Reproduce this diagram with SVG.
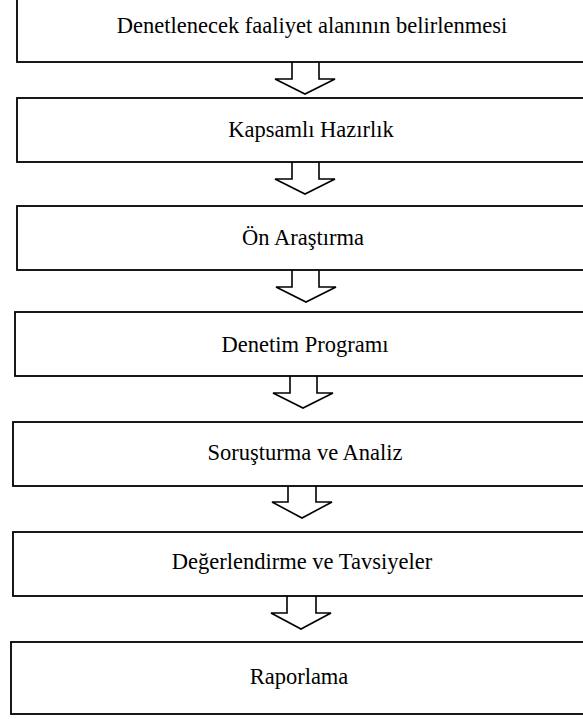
<svg xmlns="http://www.w3.org/2000/svg" width="583" height="719" viewBox="0 0 583 719">
<style>
.box{fill:#fff;stroke:#000;stroke-width:1.8}
.arr{fill:#fff;stroke:#000;stroke-width:1.6;stroke-linejoin:miter}
.t{font-family:"Liberation Serif","Times New Roman",serif;font-size:22.5px;fill:#000;text-anchor:middle}
</style>
<g id="connectors">
<polyline class="arr" points="292,62 292,79 275,79 305,94 335,79 319,79 319,62"/>
<polyline class="arr" points="292,162 292,179 275,179 305,194 335,179 319,179 319,162"/>
<polyline class="arr" points="292,270 292,287 276,287 306,302 336,287 319,287 319,270"/>
<polyline class="arr" points="290,376 290,393 273,393 303,408 333,393 317,393 317,376"/>
<polyline class="arr" points="288,486 288,502 272,502 302,518 332,502 316,502 316,486"/>
<polyline class="arr" points="287,596 287,613 271,613 301,629 331,613 316,613 316,596"/>
</g>
<g id="n1"><rect class="box" x="17" y="-10" width="600" height="72"/><text class="t" x="312" y="33">Denetlenecek faaliyet alanının belirlenmesi</text></g>
<g id="n2"><rect class="box" x="17" y="98" width="600" height="64"/><text class="t" x="311" y="137">Kapsamlı Hazırlık</text></g>
<g id="n3"><rect class="box" x="17" y="206" width="600" height="64"/><text class="t" x="303" y="245">Ön Araştırma</text></g>
<g id="n4"><rect class="box" x="15" y="312" width="600" height="64"/><text class="t" x="305" y="352">Denetim Programı</text></g>
<g id="n5"><rect class="box" x="13" y="422" width="600" height="64"/><text class="t" x="305" y="460">Soruşturma ve Analiz</text></g>
<g id="n6"><rect class="box" x="13" y="532" width="600" height="64"/><text class="t" x="302" y="569">Değerlendirme ve Tavsiyeler</text></g>
<g id="n7"><rect class="box" x="11" y="642" width="600" height="72"/><text class="t" x="299" y="684">Raporlama</text></g>
</svg>
